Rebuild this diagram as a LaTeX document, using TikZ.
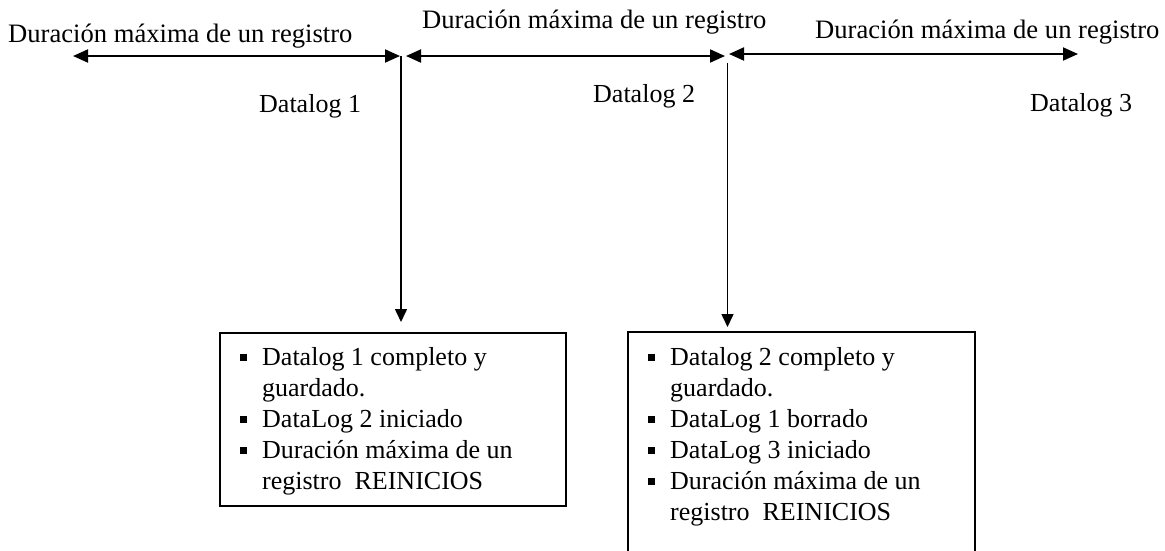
\documentclass[tikz,border=0pt]{standalone}
\usepackage{fontspec}
\setmainfont{Liberation Serif}
\usetikzlibrary{arrows.meta,calc}
\newcommand{\sqbul}{\makebox[22pt][l]{\rule[0.17em]{0.27em}{0.27em}}}
\newcommand{\sqind}{\hspace*{22pt}}
\begin{document}
\begin{tikzpicture}[x=1pt,y=-1pt,
  harrow/.style={line width=2pt,{Triangle[length=15pt,width=13pt]}-{Triangle[length=15pt,width=13pt]}},
  varrow/.style={line width=1.5pt,-{Triangle[length=13pt,width=12pt]}},
  toplbl/.style={inner sep=0pt,anchor=base west,font=\fontsize{26.6}{31}\selectfont},
  lbl/.style={inner sep=0pt,anchor=base west,font=\fontsize{26}{31}\selectfont},
  infobox/.style={draw,line width=1.8pt,anchor=north west,inner sep=0pt},
  boxtext/.style={inner sep=0pt,anchor=north west,align=left,font=\fontsize{26}{31}\selectfont}]
\useasboundingbox (0,0) rectangle (1165,550);

% top labels
\node[toplbl] (top1) at (8,42) {Duración máxima de un registro};
\node[toplbl] (top2) at (422,28) {Duración máxima de un registro};
\node[toplbl] (top3) at (815,38) {Duración máxima de un registro};

% datalog labels
\node[lbl] (dl1) at (259,112) {Datalog 1};
\node[lbl] (dl2) at (593,102) {Datalog 2};
\node[lbl] (dl3) at (1030,111) {Datalog 3};

% boxes
\node[infobox,minimum width=346pt,minimum height=173pt] (b1) at (219,332) {};
\node[infobox,minimum width=347pt,minimum height=232pt] (b2) at (627,331) {};

\node[boxtext] (t1) at ($(b1.north west)+(21,15)$) {\sqbul Datalog 1 completo y\\
\sqind guardado.\\
\sqbul DataLog 2 iniciado\\
\sqbul Duración máxima de un\\
\sqind registro\ \ REINICIOS};

\node[boxtext] (t2) at ($(b2.north west)+(21,16)$) {\sqbul Datalog 2 completo y\\
\sqind guardado.\\
\sqbul DataLog 1 borrado\\
\sqbul DataLog 3 iniciado\\
\sqbul Duración máxima de un\\
\sqind registro\ \ REINICIOS};

% horizontal dimension arrows
\coordinate (h1s) at (73,56);
\coordinate (h1e) at (400,56);
\coordinate (h2s) at (406,56);
\coordinate (h2e) at (725,56);
\coordinate (h3s) at (729,54);
\coordinate (h3e) at (1078,54);
\draw[harrow] (h1s) -- (h1e);
\draw[harrow] (h2s) -- (h2e);
\draw[harrow] (h3s) -- (h3e);

% vertical arrows to boxes
\coordinate (v1s) at (401,56);
\coordinate (v2s) at (727.5,63);
\draw[varrow,shorten >=10pt] (v1s) -- (v1s |- b1.north);
\draw[varrow,shorten >=4pt] (v2s) -- (v2s |- b2.north);
\end{tikzpicture}
\end{document}
